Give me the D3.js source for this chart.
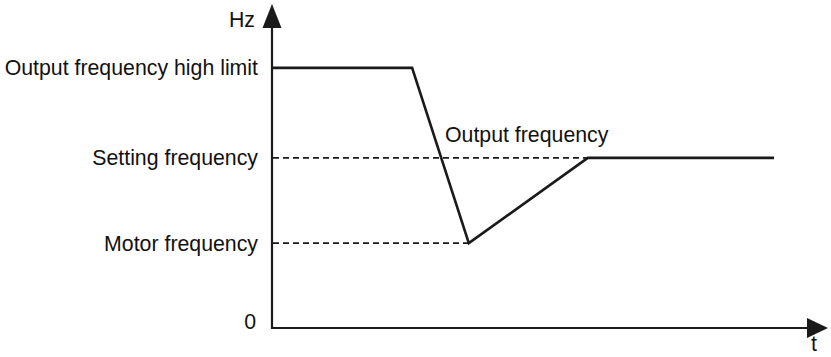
<!DOCTYPE html>
<html>
<head>
<meta charset="utf-8">
<script src="https://cdn.jsdelivr.net/npm/d3@7"></script>
<style>
  body { margin: 0; background: #fff; }
  text { font-family: Arial, "Liberation Sans", sans-serif; fill: #111; }
</style>
</head>
<body>
<div id="chart"></div>
<script>
// frequency levels (relative units) and their labels
var levelNames = ['Output frequency high limit', 'Setting frequency', 'Motor frequency'];
var levelValues = [86.7, 56.7, 28.3];

// output frequency curve: time / frequency
var outT = [0, 25.2, 35.4, 56.8, 90.3];
var outF = [86.7, 86.7, 28.3, 56.7, 56.7];

// dashed reference lines end where the curve meets them
var dashEndT = [56.8, 35.4];
var dashLevel = [56.7, 28.3];

var W = 831, H = 357;
var fs = 21.3;
var svg = d3.select('#chart').append('svg')
    .attr('width', W)
    .attr('height', H);

var x = d3.scaleLinear().domain([0, 100]).range([272, 828]);
var y = d3.scaleLinear().domain([0, 100]).range([328, 28]);

var ink = '#1a1a1a';

// y axis with arrow
svg.append('line')
    .attr('x1', x(0)).attr('x2', x(0))
    .attr('y1', y(0) + 1).attr('y2', y(100) - 2)
    .attr('stroke', ink).attr('stroke-width', 2.2);
svg.append('path')
    .attr('d', 'M' + x(0) + ',' + (y(100) - 24) + 'L' + (x(0) + 9.5) + ',' + y(100) + 'L' + (x(0) - 9.5) + ',' + y(100) + 'Z')
    .attr('fill', ink);

// x axis with arrow
svg.append('line')
    .attr('x1', x(0) - 1).attr('x2', x(100) - 20)
    .attr('y1', y(0)).attr('y2', y(0))
    .attr('stroke', ink).attr('stroke-width', 2.2);
svg.append('path')
    .attr('d', 'M' + x(100) + ',' + y(0) + 'L' + (x(100) - 21) + ',' + (y(0) - 10) + 'L' + (x(100) - 21) + ',' + (y(0) + 10) + 'Z')
    .attr('fill', ink);

// dashed level lines
svg.selectAll('.dash')
    .data(dashLevel)
    .enter().append('line')
    .attr('class', 'dash')
    .attr('x1', x(0) + 1)
    .attr('x2', function(d, i) { return x(dashEndT[i]); })
    .attr('y1', function(d) { return y(d); })
    .attr('y2', function(d) { return y(d); })
    .attr('stroke', ink).attr('stroke-width', 1.6)
    .attr('stroke-dasharray', '6,4');

// output frequency curve
var pts = outT.map(function(t, i) { return [t, outF[i]]; });
svg.append('path')
    .datum(pts)
    .attr('d', d3.line().x(function(d) { return x(d[0]); }).y(function(d) { return y(d[1]); }))
    .attr('fill', 'none')
    .attr('stroke', ink)
    .attr('stroke-width', 2.6)
    .attr('stroke-linejoin', 'miter');

// level labels
svg.selectAll('.lvl')
    .data(levelNames)
    .enter().append('text')
    .attr('class', 'lvl')
    .attr('x', x(0) - 14)
    .attr('y', function(d, i) { return y(levelValues[i]) + 7.5; })
    .attr('text-anchor', 'end')
    .attr('font-size', fs)
    .text(function(d) { return d; });

svg.append('text')
    .attr('x', x(0) - 16).attr('y', y(0) + 1)
    .attr('text-anchor', 'end').attr('font-size', fs)
    .text('0');

svg.append('text')
    .attr('x', x(0) - 17).attr('y', 27)
    .attr('text-anchor', 'end').attr('font-size', fs)
    .text('Hz');

svg.append('text')
    .attr('x', x(100) - 14).attr('y', y(0) + 23)
    .attr('text-anchor', 'middle').attr('font-size', fs)
    .text('t');

svg.append('text')
    .attr('x', 445).attr('y', 142)
    .attr('font-size', fs)
    .text('Output frequency');
</script>
</body>
</html>
